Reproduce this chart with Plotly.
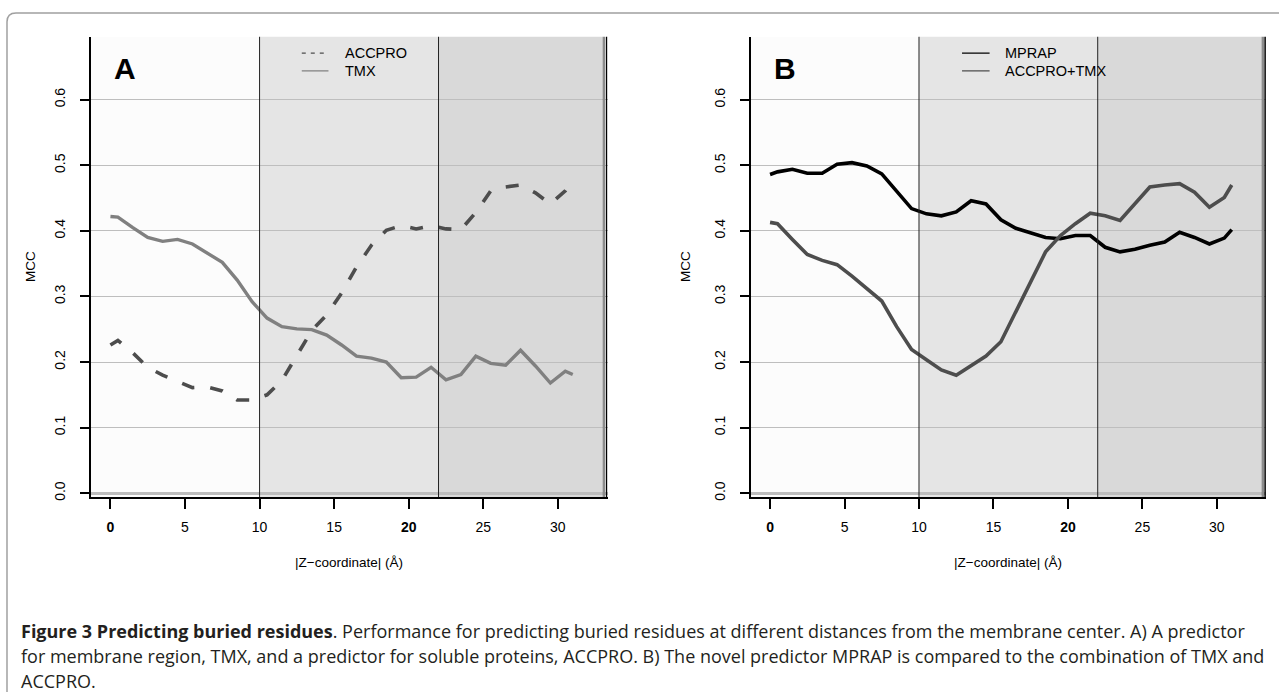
import plotly.graph_objects as go

W, H = 1279, 692

# ---------------- data ----------------
z = [0, 0.5, 1.5, 2.5, 3.5, 4.5, 5.5, 6.5, 7.5, 8.5, 9.5, 10.5, 11.5, 12.5, 13.5, 14.5,
     15.5, 16.5, 17.5, 18.5, 19.5, 20.5, 21.5, 22.5, 23.5, 24.5, 25.5, 26.5, 27.5, 28.5,
     29.5, 30.5, 31]
accpro = [0.226, 0.233, 0.214, 0.192, 0.180, 0.171, 0.161, 0.162, 0.156, 0.142, 0.142,
          0.150, 0.172, 0.210, 0.248, 0.272, 0.305, 0.345, 0.378, 0.401, 0.408, 0.403,
          0.408, 0.403, 0.402, 0.428, 0.461, 0.467, 0.470, 0.458, 0.441, 0.461, 0.477]
tmx = [0.422, 0.421, 0.405, 0.390, 0.384, 0.387, 0.380, 0.366, 0.352, 0.325, 0.292,
       0.267, 0.254, 0.2505, 0.2495, 0.241, 0.226, 0.209, 0.206, 0.200, 0.176, 0.177,
       0.192, 0.173, 0.181, 0.209, 0.198, 0.195, 0.218, 0.194, 0.168, 0.186, 0.181]
mprap = [0.486, 0.490, 0.494, 0.488, 0.488, 0.5015, 0.504, 0.499, 0.487, 0.460, 0.434,
         0.426, 0.423, 0.429, 0.446, 0.441, 0.417, 0.404, 0.397, 0.390, 0.388, 0.393,
         0.393, 0.375, 0.368, 0.372, 0.378, 0.383, 0.398, 0.390, 0.380, 0.389, 0.402]
accpro_tmx = [0.413, 0.411, 0.387, 0.364, 0.355, 0.3485, 0.331, 0.312, 0.293, 0.254,
              0.219, 0.2035, 0.188, 0.180, 0.195, 0.209, 0.231, 0.277, 0.325, 0.368,
              0.393, 0.411, 0.427, 0.423, 0.416, 0.441, 0.467, 0.470, 0.472, 0.459,
              0.436, 0.451, 0.470]

x_ticks = [0, 5, 10, 15, 20, 25, 30]
x_tick_text = ["<b>0</b>", "5", "10", "15", "<b>20</b>", "25", "30"]
y_ticks = [0.0, 0.1, 0.2, 0.3, 0.4, 0.5, 0.6]
y_tick_text = ["0.0", "0.1", "0.2", "0.3", "0.4", "0.5", "0.6"]
region_edges = [10, 22, 33]

# ---------------- figure ----------------
AX_FONT = "Liberation Sans, Arial, Helvetica, sans-serif"
DARK = "#4d4d4d"
GRAY = "#808080"

fig = go.Figure()
fig.add_trace(go.Scatter(x=z, y=accpro, mode="lines", name="ACCPRO",
                         line=dict(color=DARK, width=3.6, dash="13px,16px"),
                         xaxis="x", yaxis="y", showlegend=False))
fig.add_trace(go.Scatter(x=z, y=tmx, mode="lines", name="TMX",
                         line=dict(color=GRAY, width=3.4),
                         xaxis="x", yaxis="y", showlegend=False))
fig.add_trace(go.Scatter(x=z, y=mprap, mode="lines", name="MPRAP",
                         line=dict(color="black", width=3.6),
                         xaxis="x2", yaxis="y2", showlegend=False))
fig.add_trace(go.Scatter(x=z, y=accpro_tmx, mode="lines", name="ACCPRO+TMX",
                         line=dict(color=DARK, width=3.6),
                         xaxis="x2", yaxis="y2", showlegend=False))

ydom = [1 - 500 / H, 1 - 37 / H]
xdomA = [90.6 / W, 607.5 / W]
xdomB = [750.7 / W, 1266 / W]
xrA = [-1.33, 33.33]
xrB = [-1.30, 33.30]
yr = [-0.006, 0.696]


def xaxis(dom, rng):
    return dict(domain=dom, range=rng, showgrid=False, zeroline=False,
                showline=True, linecolor="black", linewidth=2,
                ticks="outside", ticklen=10, tickwidth=1.5, tickcolor="black",
                tickvals=x_ticks, ticktext=x_tick_text,
                tickfont=dict(family=AX_FONT, size=14, color="black"),
                ticklabelstandoff=6, fixedrange=True)


def yaxis(anchor):
    return dict(domain=ydom, range=yr, anchor=anchor, showgrid=True,
                gridcolor="#bebebe", gridwidth=1,
                zeroline=True, zerolinecolor="#bdbdbd", zerolinewidth=3,
                showline=True, linecolor="black", linewidth=2,
                ticks="outside", ticklen=9, tickwidth=1.5, tickcolor="black",
                tickvals=y_ticks, ticktext=y_tick_text, tickangle=-90,
                tickfont=dict(family=AX_FONT, size=14, color="black"),
                ticklabelstandoff=9, fixedrange=True)


fig.update_layout(
    width=W, height=H,
    margin=dict(l=0, r=0, t=0, b=0),
    paper_bgcolor="white", plot_bgcolor="#fcfcfc",
    xaxis=dict(xaxis(xdomA, xrA), anchor="y"),
    yaxis=yaxis("x"),
    xaxis2=dict(xaxis(xdomB, xrB), anchor="y2"),
    yaxis2=yaxis("x2"),
    showlegend=False,
)

shapes = []
annotations = []
fills = ["#e5e5e5", "#d9d9d9"]
for xr_, xs, ys in ((xrA, "x", "y"), (xrB, "x2", "y2")):
    # shaded depth regions
    shapes.append(dict(type="rect", xref=xs, yref="paper", x0=region_edges[0],
                       x1=region_edges[1], y0=ydom[0], y1=ydom[1], fillcolor=fills[0],
                       line=dict(width=0), layer="below"))
    shapes.append(dict(type="rect", xref=xs, yref="paper", x0=region_edges[1],
                       x1=region_edges[2], y0=ydom[0], y1=ydom[1], fillcolor=fills[1],
                       line=dict(width=0), layer="below"))
    for e in region_edges[:2]:
        shapes.append(dict(type="line", xref=xs, yref="paper", x0=e, x1=e,
                           y0=ydom[0], y1=ydom[1], line=dict(color="#222222", width=1),
                           layer="above"))
    # right edge: gray bar + black line
    shapes.append(dict(type="rect", xref=xs, yref="paper", x0=region_edges[2],
                       x1=region_edges[2] + 0.17, y0=ydom[0], y1=ydom[1],
                       fillcolor="#8c8c8c", line=dict(width=0), layer="above"))
    shapes.append(dict(type="line", xref=xs, yref="paper", x0=xr_[1] - 0.06,
                       x1=xr_[1] - 0.06, y0=ydom[0], y1=ydom[1],
                       line=dict(color="black", width=1.5), layer="above"))

# legends (thin sample lines + text)
legend_rows = [
    ("x", "y", "ACCPRO", DARK, "4px,5px", 12.83, 14.62, 15.58, 0.671),
    ("x", "y", "TMX", GRAY, "solid", 12.83, 14.62, 15.58, 0.644),
    ("x2", "y2", "MPRAP", "black", "solid", 12.89, 14.74, 15.62, 0.671),
    ("x2", "y2", "ACCPRO+TMX", DARK, "solid", 12.89, 14.74, 15.62, 0.644),
]
for xs, ys, label, col, dash, lx0, lx1, tx, yy in legend_rows:
    shapes.append(dict(type="line", xref=xs, yref=ys, x0=lx0, x1=lx1, y0=yy, y1=yy,
                       line=dict(color=col, width=1.2, dash=dash), layer="above"))
    annotations.append(dict(xref=xs, yref=ys, x=tx, y=yy, text=label, showarrow=False,
                            xanchor="left", yanchor="middle",
                            font=dict(family=AX_FONT, size=14.5, color="black")))

# panel letters
for xs, ys, letter in (("x", "y", "A"), ("x2", "y2", "B")):
    annotations.append(dict(xref=xs, yref=ys, x=0.97, y=0.647, text="<b>%s</b>" % letter,
                            showarrow=False, xanchor="center", yanchor="middle",
                            font=dict(family=AX_FONT, size=30, color="black")))

# axis titles
for cx, mx in ((348.8, 31), (1008.3, 686)):
    annotations.append(dict(xref="paper", yref="paper", x=cx / W, y=1 - 566 / H,
                            text="|Z\u2212coordinate| (\u00c5)", showarrow=False,
                            xanchor="center", yanchor="middle",
                            font=dict(family=AX_FONT, size=13.5, color="black")))
    annotations.append(dict(xref="paper", yref="paper", x=mx / W, y=1 - 268.5 / H,
                            text="MCC", showarrow=False, textangle=-90,
                            xanchor="center", yanchor="middle",
                            font=dict(family=AX_FONT, size=13.5, color="black")))


# outer rounded frame
def px(x, y):
    return "%.5f,%.5f" % (x / W, 1 - y / H)


frame = "M %s L %s Q %s %s L %s" % (px(7, 700), px(7, 22), px(7, 13), px(16, 13), px(1290, 13))
shapes.append(dict(type="path", xref="paper", yref="paper", path=frame,
                   line=dict(color="#a0a0a0", width=1.5), layer="above"))

# caption
CAP_FONT = "Open Sans, Noto Sans, sans-serif"
cap_lines = [
    "<b>Figure 3 Predicting buried residues</b>. Performance for predicting buried residues at "
    "different distances from the membrane center. A) A predictor",
    "for membrane region, TMX, and a predictor for soluble proteins, ACCPRO. B) The novel "
    "predictor MPRAP is compared to the combination of TMX and",
    "ACCPRO.",
]
for line, yy in zip(cap_lines, (634.5, 660, 684.5)):
    annotations.append(dict(xref="paper", yref="paper", x=19 / W, y=1 - yy / H, text=line,
                            showarrow=False, xanchor="left", yanchor="middle",
                            font=dict(family=CAP_FONT, size=18, color="#231f20")))

fig.update_layout(shapes=shapes, annotations=annotations)
fig.write_html("out.html", config={"displayModeBar": False},
               post_script="document.body.style.margin='0';document.body.style.overflow='hidden';")
